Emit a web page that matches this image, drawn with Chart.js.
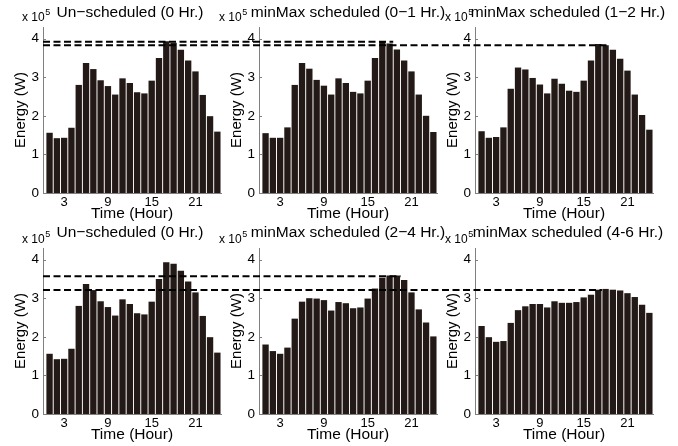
<!DOCTYPE html>
<html lang="en">
<head>
<meta charset="UTF-8">
<title>Energy per hour, un-scheduled vs minMax scheduled</title>
<script src="https://cdn.jsdelivr.net/npm/chart.js"></script>
<style>
  body { margin: 0; background: #fff; }
  #wrap { position: relative; width: 678px; height: 446px; }
  #wrap canvas { position: absolute; left: 0; top: 0; }
</style>
</head>
<body>
<div id="wrap"></div>
<script>
// ---- data (x 10^5 W) ----
const hours = [1, 2, 3, 4, 5, 6, 7, 8, 9, 10, 11, 12, 13, 14, 15, 16, 17, 18, 19, 20, 21, 22, 23, 24];
const xTickHours = [3, 9, 15, 21];
const yTickValues = [0, 1, 2, 3, 4];

const unscheduled = [1.56, 1.42, 1.43, 1.69, 2.80, 3.37, 3.21, 2.92, 2.77, 2.55, 2.97, 2.85,
                     2.61, 2.58, 2.91, 3.50, 3.93, 3.89, 3.71, 3.43, 3.15, 2.54, 1.99, 1.59];
const minMax01 = [1.55, 1.43, 1.43, 1.70, 2.80, 3.37, 3.22, 2.93, 2.78, 2.55, 2.97, 2.85,
                  2.62, 2.58, 2.91, 3.50, 3.93, 3.87, 3.72, 3.43, 3.15, 2.55, 2.00, 1.58];
const minMax12 = [1.60, 1.43, 1.45, 1.70, 2.70, 3.25, 3.20, 2.98, 2.81, 2.58, 2.96, 2.83,
                  2.65, 2.62, 2.91, 3.43, 3.86, 3.83, 3.71, 3.48, 3.17, 2.55, 2.02, 1.64];
const minMax24 = [1.80, 1.63, 1.56, 1.72, 2.47, 2.91, 3.00, 2.99, 2.95, 2.68, 2.90, 2.87,
                  2.74, 2.76, 2.99, 3.25, 3.53, 3.59, 3.59, 3.47, 3.15, 2.71, 2.37, 2.01];
const minMax46 = [2.28, 1.99, 1.87, 1.89, 2.36, 2.69, 2.79, 2.85, 2.85, 2.76, 2.92, 2.88,
                  2.88, 2.90, 3.02, 3.09, 3.22, 3.24, 3.22, 3.20, 3.13, 3.03, 2.83, 2.62];

const panelTitles = ['Un\u2212scheduled (0 Hr.)', 'minMax scheduled (0\u22121 Hr.)', 'minMax scheduled (1\u22122 Hr.)',
                     'Un\u2212scheduled (0 Hr.)', 'minMax scheduled (2\u22124 Hr.)', 'minMax scheduled (4-6 Hr.)'];
const panelSeries = [unscheduled, minMax01, minMax12, unscheduled, minMax24, minMax46];

// peak reference levels drawn as dashed lines
const peakLevels = [3.92, 3.83, 3.57, 3.21];
const dashSpans = [
  { row: 0, level: 0, endCol: 1, endHour: 18 },
  { row: 0, level: 1, endCol: 2, endHour: 18 },
  { row: 1, level: 2, endCol: 1, endHour: 19 },
  { row: 1, level: 3, endCol: 2, endHour: 17 }
];

// ---- layout ----
const W = 678, H = 446;
const FONT = "'Liberation Sans', Arial, Helvetica, sans-serif";
const colLeft = [43, 259, 475];
const plotWidth = 178;
const rowTop = [27, 248];
const rowBottom = [193, 414];
const titleY = [13, 233];
const multY = [18, 240];
const multShift = [-21, -40, -30];
const titleShift = [-2, 0, 4];
const Y_AXIS_W = 40, X_AXIS_H = 30;

const charts = [];

const decoPlugin = {
  id: 'deco',
  afterDraw(chart, args, opts) {
    const { ctx, chartArea: a } = chart;
    const y = chart.scales.y;
    ctx.save();
    // small inward ticks on the y axis
    ctx.strokeStyle = '#808080';
    ctx.lineWidth = 1;
    yTickValues.forEach(v => {
      const py = Math.round(y.getPixelForValue(v)) + 0.5;
      ctx.beginPath();
      ctx.moveTo(a.left, py);
      ctx.lineTo(a.left + 3, py);
      ctx.stroke();
    });
    // panel title
    ctx.fillStyle = '#000';
    ctx.font = `15.5px ${FONT}`;
    ctx.textAlign = 'center';
    ctx.textBaseline = 'middle';
    ctx.fillText(opts.title, (a.left + a.right) / 2 + opts.titleShift, opts.titleY);
    // axis multiplier
    ctx.font = `12px ${FONT}`;
    ctx.textAlign = 'left';
    const mx = a.left + opts.multShift;
    ctx.fillText('x 10', mx, opts.multY);
    const w = ctx.measureText('x 10').width;
    ctx.font = `9px ${FONT}`;
    ctx.fillText('5', mx + w + 0.5, opts.multY - 5);
    ctx.restore();
  }
};

const dashPlugin = {
  id: 'dashes',
  afterDraw(chart, args, opts) {
    if (opts.row === undefined) return;
    const { ctx } = chart;
    const rowCharts = [0, 1, 2].map(c => (c === 2 ? chart : charts[opts.row * 3 + c]));
    ctx.save();
    ctx.strokeStyle = '#000';
    ctx.lineWidth = 2;
    ctx.setLineDash([7, 3.5]);
    dashSpans.filter(s => s.row === opts.row).forEach(s => {
      const py = chart.scales.y.getPixelForValue(peakLevels[s.level]);
      const x0 = rowCharts[0].chartArea.left;
      const x1 = rowCharts[s.endCol].scales.x.getPixelForValue(s.endHour + 0.5);
      ctx.beginPath();
      ctx.moveTo(x0, py);
      ctx.lineTo(x1, py);
      ctx.stroke();
    });
    ctx.restore();
  }
};

panelSeries.forEach((series, i) => {
  const row = Math.floor(i / 3), col = i % 3;
  const canvas = document.createElement('canvas');
  canvas.width = W;
  canvas.height = H;
  document.getElementById('wrap').appendChild(canvas);
  const L = colLeft[col];

  const chart = new Chart(canvas, {
    type: 'bar',
    data: {
      datasets: [{
        data: hours.map((h, k) => ({ x: h, y: series[k] })),
        backgroundColor: '#231a17',
        borderWidth: 0,
        barPercentage: 0.87,
        categoryPercentage: 1
      }]
    },
    options: {
      responsive: false,
      animation: false,
      events: [],
      layout: {
        padding: {
          left: L - Y_AXIS_W,
          right: W - (L + plotWidth),
          top: rowTop[row],
          bottom: H - rowBottom[row] - X_AXIS_H
        }
      },
      plugins: {
        legend: { display: false },
        tooltip: { enabled: false },
        deco: { title: panelTitles[i], titleY: titleY[row], titleShift: titleShift[col],
                multY: multY[row], multShift: multShift[col] },
        dashes: col === 2 ? { row: row } : {}
      },
      scales: {
        x: {
          type: 'linear',
          min: 0.1,
          max: 24.5,
          offset: false,
          afterBuildTicks: s => { s.ticks = xTickHours.map(v => ({ value: v })); },
          afterFit: s => { s.height = X_AXIS_H; s.paddingLeft = 0; s.paddingRight = 0; },
          grid: { display: false, drawTicks: false },
          border: { display: true, color: '#808080', width: 1 },
          ticks: { autoSkip: false, maxRotation: 0, color: '#000', padding: 2,
                   font: { size: 13, family: FONT } },
          title: { display: true, text: 'Time (Hour)', color: '#000',
                   font: { size: 15.5, family: FONT }, padding: { top: 0, bottom: 0 } }
        },
        y: {
          min: 0,
          max: 4.3,
          afterBuildTicks: s => { s.ticks = yTickValues.map(v => ({ value: v })); },
          afterFit: s => { s.width = Y_AXIS_W; s.paddingTop = 0; s.paddingBottom = 0; },
          grid: { display: false, drawTicks: false },
          border: { display: true, color: '#808080', width: 1 },
          ticks: { color: '#000', padding: 4, font: { size: 13.5, family: FONT } },
          title: { display: true, text: 'Energy (W)', color: '#000',
                   font: { size: 15, family: FONT }, padding: { top: 9, bottom: 0 } }
        }
      }
    },
    plugins: [decoPlugin, dashPlugin]
  });
  charts.push(chart);
});
</script>
</body>
</html>
